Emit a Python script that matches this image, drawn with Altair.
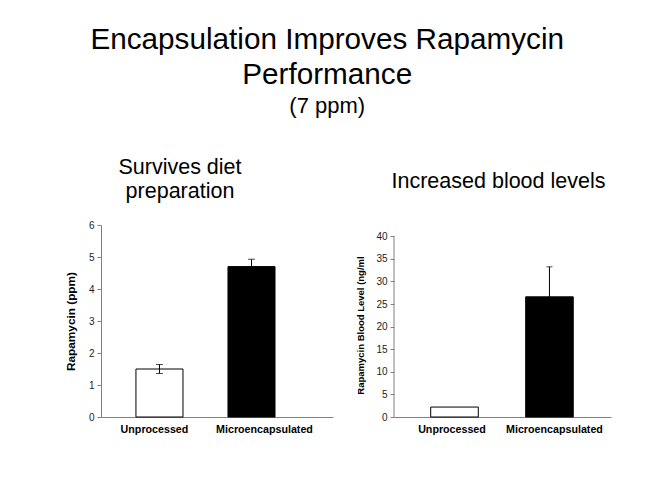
import altair as alt
import pandas as pd

FONT = "Liberation Sans"
AXIS_GRAY = "#808080"

categories = ["Unprocessed", "Microencapsulated"]
bar_fill = ["white", "black"]

diet_values = [1.5, 4.7]
diet_err = [0.14, 0.23]

blood_values = [2.2, 26.6]
blood_err = [0.0, 6.65]

diet_ticks = [0, 1, 2, 3, 4, 5, 6]
blood_ticks = [0, 5, 10, 15, 20, 25, 30, 35, 40]


def make_df(values, errs):
    return pd.DataFrame({
        "category": categories,
        "value": values,
        "lo": [v - e for v, e in zip(values, errs)],
        "hi": [v + e for v, e in zip(values, errs)],
        "err": errs,
        "fill": bar_fill,
    })


df_diet = make_df(diet_values, diet_err)
df_blood = make_df(blood_values, blood_err)


def x_enc(pi, po, align, off_a, off_b):
    return alt.X(
        "category:N", sort=categories, title=None,
        scale=alt.Scale(paddingInner=pi, paddingOuter=po, align=align),
        axis=alt.Axis(
            labelAngle=0, ticks=False, domainColor=AXIS_GRAY, domainWidth=1,
            labelFont=FONT, labelFontWeight="bold", labelFontSize=10.7,
            labelColor="black", labelPadding=7,
            labelOffset={"condition": {"test": "datum.value == 'Unprocessed'", "value": off_a}, "value": off_b},
        ),
    )


def panel(df, xenc, yscale, yaxis, ytitle, cap_w, axis_top=None):
    base = alt.Chart(df)

    def yenc(field):
        return alt.Y(field, type="quantitative", scale=yscale, axis=yaxis, title=ytitle)

    bars = base.mark_bar(stroke="black", strokeWidth=1).encode(
        x=xenc, y=yenc("value"),
        fill=alt.Fill("fill:N", scale=None),
    )
    dfe = base.transform_filter("datum.err > 0")
    err = dfe.mark_rule(color="black", strokeWidth=1).encode(
        x=xenc, y=yenc("lo"), y2="hi:Q",
    )
    caps_hi = dfe.mark_tick(color="black", thickness=1, size=cap_w, orient="horizontal").encode(
        x=xenc, y=yenc("hi"),
    )
    caps_lo = dfe.mark_tick(color="black", thickness=1, size=cap_w, orient="horizontal").encode(
        x=xenc, y=yenc("lo"),
    )
    layers = [bars, err, caps_hi, caps_lo]
    if axis_top is not None:
        # y axis line drawn only from 0 up to the top tick
        axis_line = alt.Chart(pd.DataFrame({"a": [0]})).mark_rule(
            color=AXIS_GRAY, strokeWidth=1
        ).encode(
            x=alt.value(0),
            y=alt.Y(datum=0, type="quantitative", scale=yscale, axis=yaxis, title=ytitle),
            y2=alt.Y2(datum=axis_top),
        )
        layers.append(axis_line)
    return alt.layer(*layers)


left_axis = alt.Axis(
    values=diet_ticks, grid=False, domainColor=AXIS_GRAY, tickColor=AXIS_GRAY,
    tickSize=4, labelFont=FONT, labelFontSize=10, labelColor="#222222",
    labelPadding=3, titleFont=FONT, titleFontSize=11.8, titleFontWeight="bold",
    titleColor="black", titlePadding=12,
)
left = panel(
    df_diet,
    x_enc(0.489, 0.505, 0.376, -5, 13),
    alt.Scale(domain=[0, 6], nice=False),
    left_axis,
    "Rapamycin  (ppm)",
    7,
).properties(
    width=232, height=192,
    title=alt.TitleParams(["Survives diet", "preparation"], font=FONT, fontSize=21.5,
                          fontWeight="normal", lineHeight=24.3, color="black",
                          anchor="middle", dx=-37, offset=17),
)

right_axis = alt.Axis(
    values=blood_ticks, grid=False, domain=False, tickColor=AXIS_GRAY,
    tickSize=4, labelFont=FONT, labelFontSize=10, labelColor="#222222",
    labelPadding=3, titleFont=FONT, titleFontSize=9.5, titleFontWeight="bold",
    titleColor="black", titlePadding=10, titleY=100,
)
right = panel(
    df_blood,
    x_enc(0.499, 0.392, 0.493, -2.5, 5),
    alt.Scale(domain=[0, 42.5], nice=False),
    right_axis,
    "Rapamycin Blood Level (ng/ml",
    6,
    axis_top=blood_ticks[-1],
).properties(
    width=217, height=192,
    title=alt.TitleParams("Increased blood levels", font=FONT, fontSize=21.5,
                          fontWeight="normal", color="black",
                          anchor="middle", dx=-4, offset=33),
)

chart = alt.hconcat(left, right, spacing=22).properties(
    title=alt.TitleParams(
        ["Encapsulation Improves Rapamycin", "Performance"],
        subtitle="(7 ppm)", font=FONT, subtitleFont=FONT, fontSize=29.7,
        fontWeight="normal", lineHeight=35.4, subtitleFontSize=22,
        subtitleColor="black", color="black", subtitlePadding=5.5,
        anchor="middle", dx=-11, offset=39,
    ),
    padding={"left": 57, "top": 16, "right": 10, "bottom": 10},
    background="white",
).configure_view(stroke=None)

chart.save("out.html", embed_options={"renderer": "svg", "actions": False})
